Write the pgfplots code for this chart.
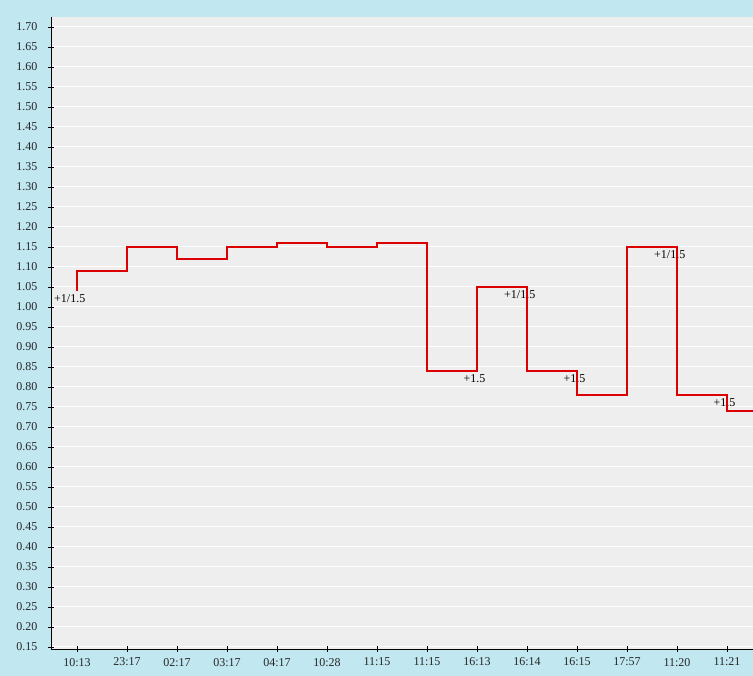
\documentclass[border=0pt]{standalone}
\usepackage{fontspec}
\setmainfont{Liberation Serif}
\usepackage{pgfplots}
\pgfplotsset{compat=1.18}
\definecolor{bgblue}{RGB}{193,231,240}
\definecolor{plotgray}{RGB}{238,238,238}
\definecolor{stepred}{RGB}{221,0,0}
\begin{document}
\begin{tikzpicture}[x=1pt,y=1pt]
\path[use as bounding box] (-51,-27) rectangle (702,649);
\fill[bgblue] (-51,-27) rectangle (702,649);
\fill[plotgray] (0,0) rectangle (702,632);
\begin{axis}[
  at={(0pt,0pt)}, anchor=south west,
  scale only axis, width=702pt, height=632pt,
  xmin=-0.52, xmax=13.52,
  ymin=0.145, ymax=1.725,
  axis x line=bottom, axis y line=left,
  axis line style={black, line width=0.9pt, -},
  xtick={0,...,13},
  xticklabels={10:13,23:17,02:17,03:17,04:17,10:28,11:15,11:15,16:13,16:14,16:15,17:57,11:20,11:21},
  ytick={0.15,0.20,...,1.70},
  ymajorgrids, grid style={white, line width=1pt},
  tick align=center, major tick length=6pt,
  tick style={black, line width=0.9pt},
  ticklabel style={font=\fontsize{12}{14}\selectfont, text=black!85},
  yticklabel style={xshift=-7pt},
  xticklabel style={yshift=-2.5pt},
  /pgf/number format/.cd, fixed, fixed zerofill, precision=2, assume math mode=true,
]
\tikzset{lbl/.style={anchor=north east, inner sep=0pt, xshift=8.5pt, yshift=-3.5pt,
  font=\fontsize{12}{14}\selectfont}}
\node[lbl] at (axis cs:0,1.04) {+1/1.5};
\node[lbl] at (axis cs:8,0.84) {+1.5};
\node[lbl] at (axis cs:9,1.05) {+1/1.5};
\node[lbl] at (axis cs:10,0.84) {+1.5};
\node[lbl] at (axis cs:12,1.15) {+1/1.5};
\node[lbl] at (axis cs:13,0.78) {+1.5};

\addplot[const plot mark left, stepred, line width=1.7pt, mark=none] coordinates {
  (0,1.04)(0,1.09)(1,1.15)(2,1.12)(3,1.15)(4,1.16)(5,1.15)(6,1.16)
  (7,0.84)(8,1.05)(9,0.84)(10,0.78)(11,1.15)(12,0.78)(13,0.74)(13.52,0.74)
};
\end{axis}
\end{tikzpicture}
\end{document}
